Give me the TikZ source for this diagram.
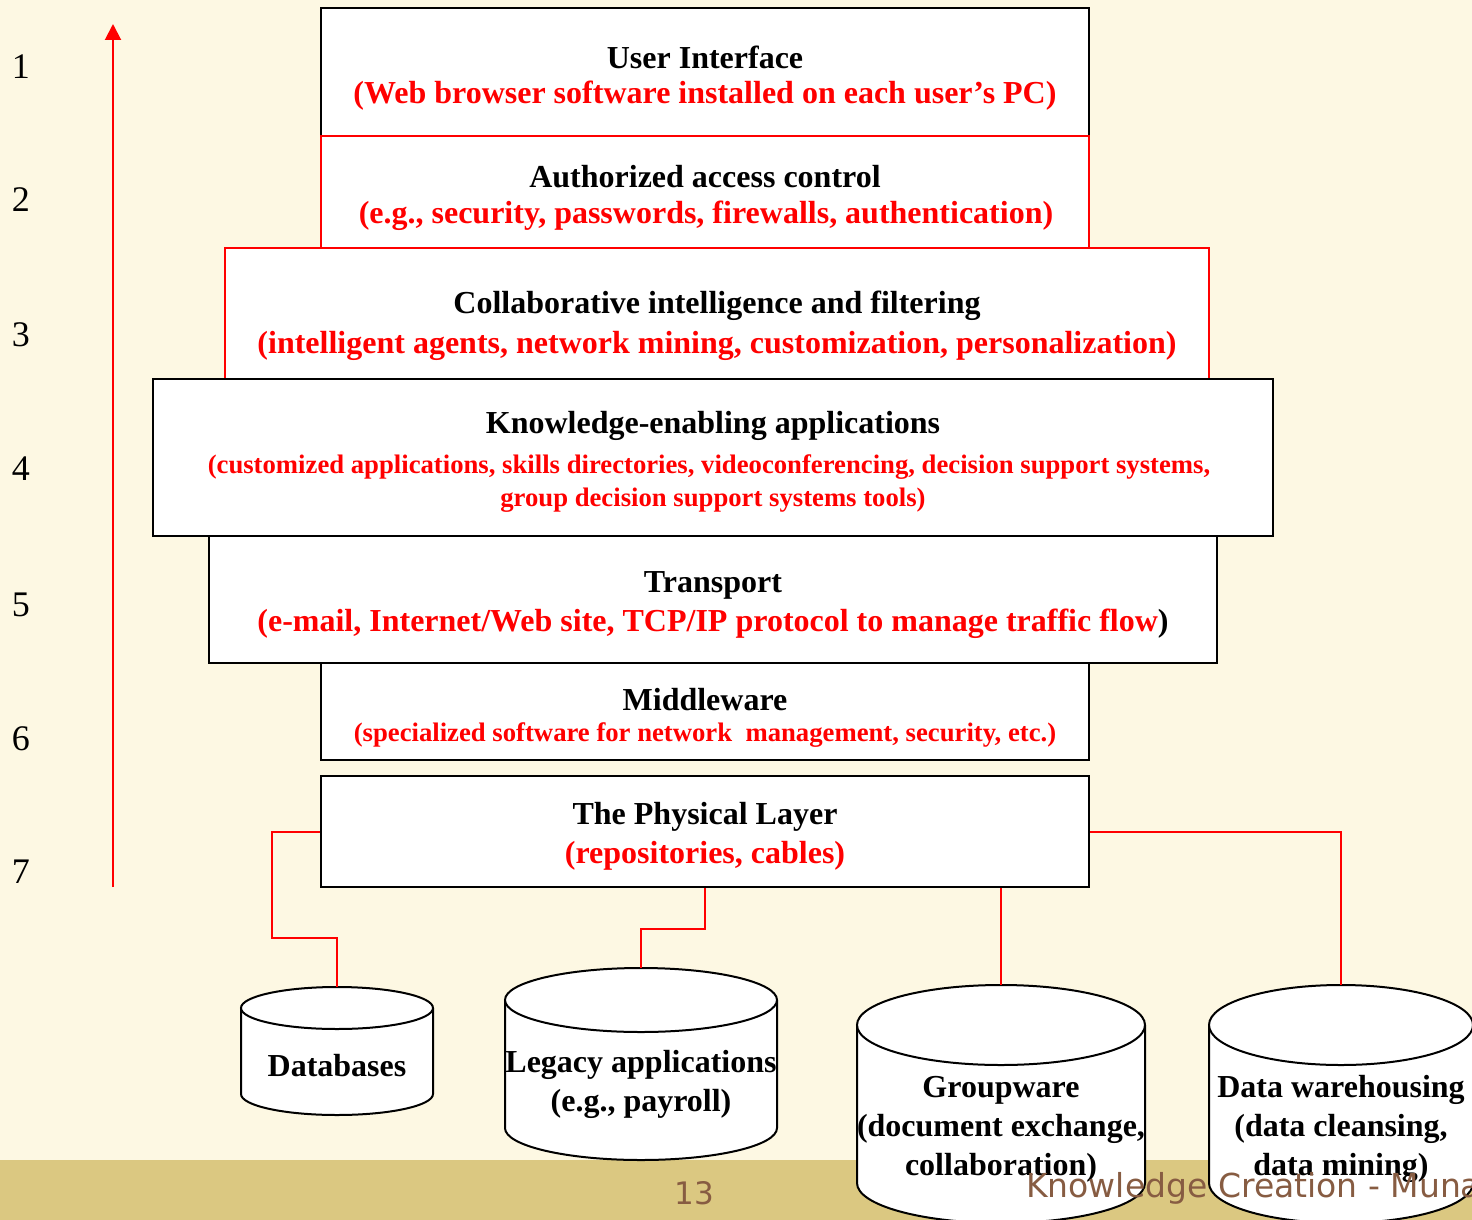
\documentclass[tikz,border=0pt]{standalone}
\usepackage{fontspec}
\setmainfont{Liberation Serif}
\newfontfamily\footfont{DejaVu Sans}
\usetikzlibrary{arrows.meta}
\definecolor{bgcol}{HTML}{FDF8E3}
\definecolor{bandcol}{HTML}{DBC881}
\definecolor{footcol}{HTML}{875C42}
\definecolor{myred}{HTML}{FF0000}
\newcommand\mycyl[5]{%
  \fill[white] ({#1-#3},{#2+#4}) rectangle ({#1+#3},{#5-#4});
  \fill[white] (#1,{#5-#4}) ellipse [x radius=#3pt, y radius=#4pt];
  \draw[cylline] ({#1-#3},{#2+#4}) -- ({#1-#3},{#5-#4}) arc[start angle=180,end angle=360,x radius=#3pt,y radius=#4pt] -- ({#1+#3},{#2+#4});
  \draw[cylline,fill=white] (#1,{#2+#4}) ellipse [x radius=#3pt, y radius=#4pt];
}
\begin{document}
\begin{tikzpicture}[x=1pt,y=-1pt,
  blackbox/.style={draw=black,line width=2pt,fill=white,rectangle,inner sep=0pt},
  redbox/.style={draw=myred,line width=2pt,fill=white,rectangle,inner sep=0pt},
  title/.style={font=\fontsize{32}{38}\selectfont\bfseries,inner sep=0pt,anchor=center,yshift=-2pt},
  sub/.style={font=\fontsize{32}{38}\selectfont\bfseries,text=myred,inner sep=0pt,anchor=center,yshift=-3pt},
  smallsub/.style={font=\fontsize{26.7}{32}\selectfont\bfseries,text=myred,inner sep=0pt,anchor=center,yshift=-2pt},
  num/.style={font=\fontsize{36}{40}\selectfont,inner sep=0pt,anchor=center},
  cylline/.style={draw=black,line width=2pt},
  cyltext/.style={font=\fontsize{32}{39}\selectfont\bfseries,align=center,inner sep=0pt,anchor=center,yshift=-3pt},
  conn/.style={draw=myred,line width=2pt},
  foot/.style={inner sep=0pt,text=footcol}
]
\useasboundingbox (0,0) rectangle (1472,1220);
\clip (0,0) rectangle (1472,1220);
\fill[bgcol] (0,0) rectangle (1472,1220);
\fill[bandcol] (0,1160) rectangle (1472,1220);

% boxes
\node[blackbox,minimum width=768pt,minimum height=128pt] (b1) at (705,72) {};
\node[redbox,minimum width=768pt,minimum height=112pt] (b2) at (705,192) {};
\node[redbox,minimum width=984pt,minimum height=131pt] (b3) at (717,313.5) {};
\node[blackbox,minimum width=1120pt,minimum height=157pt] (b4) at (713,457.5) {};
\node[blackbox,minimum width=1008pt,minimum height=127pt] (b5) at (713,599.5) {};
\node[blackbox,minimum width=768pt,minimum height=97pt] (b6) at (705,711.5) {};
\node[blackbox,minimum width=768pt,minimum height=111pt] (b7) at (705,831.5) {};

% texts
\node[title] (t1a) at (705,55) {User Interface};
\node[sub] (t1b) at (705,93) {(Web browser software installed on each user’s PC)};
\node[title] (t2a) at (705,175) {Authorized access control};
\node[sub] (t2b) at (706,213) {(e.g., security, passwords, firewalls, authentication)};
\node[title] (t3a) at (717,304) {Collaborative intelligence and filtering};
\node[sub] (t3b) at (717,343) {(intelligent agents, network mining, customization, personalization)};
\node[title] (t4a) at (713,424) {Knowledge-enabling applications};
\node[smallsub] (t4b) at (709,465) {(customized applications, skills directories, videoconferencing, decision support systems,};
\node[smallsub] (t4c) at (713,498) {group decision support systems tools)};
\node[title] (t5a) at (713,583) {Transport};
\node[sub] (t5b) at (713,621) {(e-mail, Internet/Web site, TCP/IP protocol to manage traffic flow\textcolor{black}{)}};
\node[title] (t6a) at (705,698) {Middleware};
\node[smallsub] (t6b) at (705,733) {(specialized software for network\ \ management, security, etc.)};
\node[title] (t7a) at (705,815) {The Physical Layer};
\node[sub] (t7b) at (705,853) {(repositories, cables)};

% level numbers
\node[num] (n1) at (21,67) {1};
\node[num] (n2) at (21,200) {2};
\node[num] (n3) at (21,335) {3};
\node[num] (n4) at (21,469) {4};
\node[num] (n5) at (21,605) {5};
\node[num] (n6) at (21,739) {6};
\node[num] (n7) at (21,872) {7};

% arrow
\coordinate (abot) at (113,887);
\coordinate (atop) at (113,24);
\draw[myred,line width=2pt,-{Triangle[length=16pt,width=16pt]}] (abot) -- (atop);

% cylinders
\mycyl{337}{987}{96}{21}{1115}
\mycyl{641}{968}{136}{32}{1160}
\mycyl{1001}{985}{144}{40}{1223}
\mycyl{1341}{985}{132}{40}{1223}
\coordinate (dbtop) at (337,987);
\coordinate (lgtop) at (641,968);
\coordinate (gwtop) at (1001,985);
\coordinate (dwtop) at (1341,985);
\node[cyltext] (db) at (337,1063) {Databases};
\node[cyltext] (lg) at (641,1081.5) {Legacy applications\\(e.g., payroll)};
\node[cyltext] (gw) at (1001,1126) {Groupware\\(document exchange,\\collaboration)};
\node[cyltext] (dw) at (1341,1126) {Data warehousing\\(data cleansing,\\data mining)};

% connectors
\draw[conn] (b7.west) -- ++(-48,0) -- ++(0,106.5) -| (dbtop);
\draw[conn] (b7.south) -- ++(0,41) -| (lgtop);
\draw[conn] (b7.south -| gwtop) -- (gwtop);
\draw[conn] (b7.east) -| (dwtop);

% footer
\node[foot,font=\footfont\fontsize{31}{36}\selectfont,anchor=center] (pg) at (694,1193) {13};
\node[foot,font=\footfont\fontsize{33}{38}\selectfont,anchor=west] (ft) at (1026,1188) {Knowledge Creation - Muna};
\end{tikzpicture}
\end{document}
